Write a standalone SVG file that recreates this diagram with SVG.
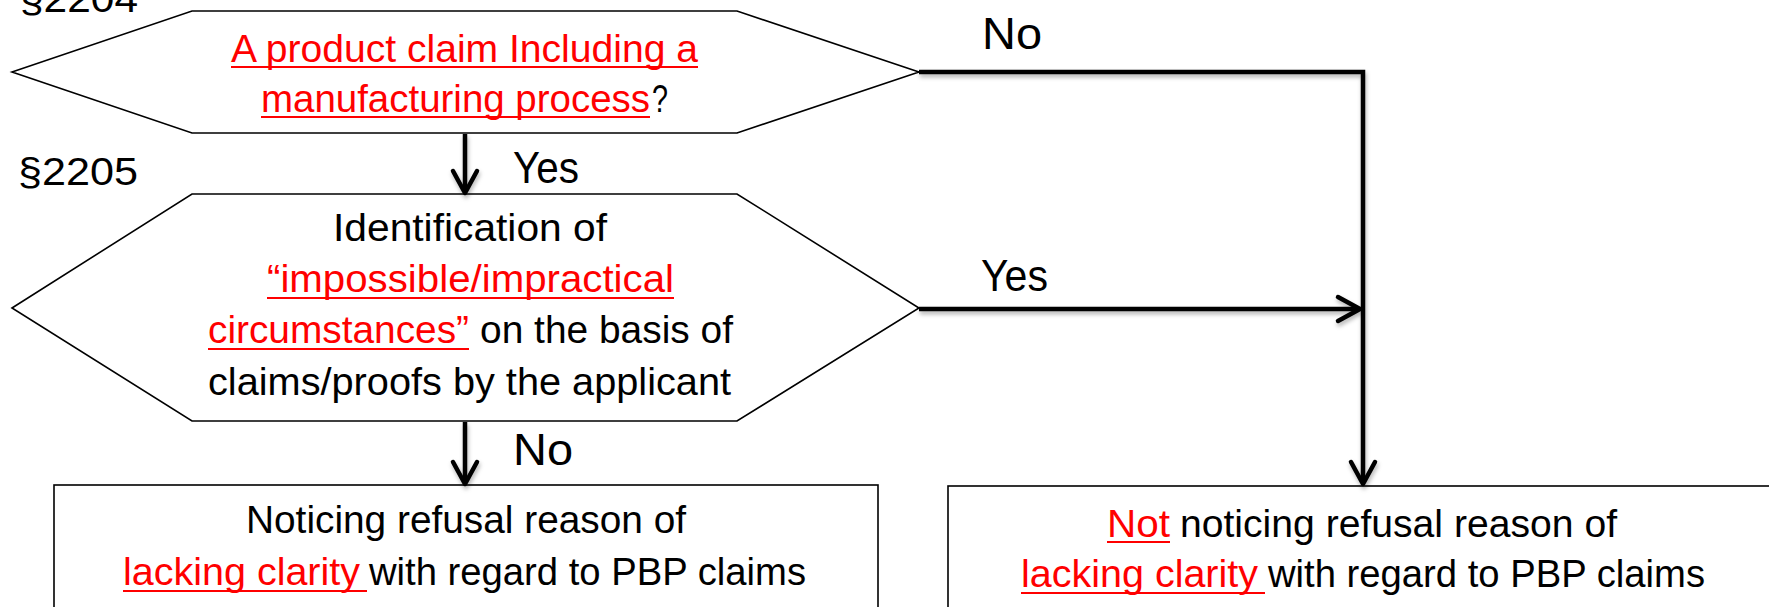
<svg xmlns="http://www.w3.org/2000/svg" width="1769" height="607" viewBox="0 0 1769 607">
<style>
.t{font-family:"Liberation Sans",Arial,sans-serif;font-size:38px;fill:#000}
.r{fill:#ff0000}
.lbl{font-size:44px}
.shape{fill:#fff;stroke:#000;stroke-width:1.6}
.ul{stroke:#ff0000;stroke-width:2}
.conn{fill:none;stroke:#000;stroke-width:4.5;stroke-linejoin:miter}
</style>
<defs>
<marker id="arr" markerUnits="userSpaceOnUse" markerWidth="30" markerHeight="30" viewBox="-26 -15 30 30" refX="-2" refY="0" orient="auto" overflow="visible">
<path d="M-22,-12 L0,0 L-22,12" fill="none" stroke="#000" stroke-width="4.5" stroke-linecap="round" stroke-linejoin="round"/>
</marker>
<filter id="sh" x="-10%" y="-10%" width="120%" height="130%">
<feDropShadow dx="1" dy="3" stdDeviation="2" flood-color="#000" flood-opacity="0.3"/>
</filter>
</defs>

<g id="annotations">
<text class="t" x="20" y="12" textLength="118" lengthAdjust="spacingAndGlyphs">§2204</text>
<text class="t" x="18" y="185" textLength="120" lengthAdjust="spacingAndGlyphs">§2205</text>
</g>

<g id="node-q1">
<polygon class="shape" points="12,72 192,11 737,11 919,72 737,133 192,133"/>
<text class="t r" x="231" y="62" textLength="467" lengthAdjust="spacingAndGlyphs">A product claim Including a</text>
<line class="ul" x1="231" y1="67" x2="698" y2="67"/>
<text class="t r" x="261" y="112" textLength="389" lengthAdjust="spacingAndGlyphs">manufacturing process</text>
<line class="ul" x1="261" y1="117" x2="650" y2="117"/>
<text class="t" x="652" y="112" textLength="16" lengthAdjust="spacingAndGlyphs">?</text>
</g>

<g id="node-q2">
<polygon class="shape" points="12,308 192,194 737,194 919,308 737,421 192,421"/>
<text class="t" x="333" y="241" textLength="274" lengthAdjust="spacingAndGlyphs">Identification of</text>
<text class="t r" x="267" y="292" textLength="407" lengthAdjust="spacingAndGlyphs">“impossible/impractical</text>
<line class="ul" x1="267" y1="298" x2="674" y2="298"/>
<text class="t r" x="208" y="343" textLength="261" lengthAdjust="spacingAndGlyphs">circumstances”</text>
<line class="ul" x1="208" y1="349" x2="469" y2="349"/>
<text class="t" x="480" y="343" textLength="253" lengthAdjust="spacingAndGlyphs">on the basis of</text>
<text class="t" x="208" y="395" textLength="523" lengthAdjust="spacingAndGlyphs">claims/proofs by the applicant</text>
</g>

<g id="node-refusal">
<rect class="shape" x="54" y="485" width="824" height="140"/>
<text class="t" x="246" y="533" textLength="440" lengthAdjust="spacingAndGlyphs">Noticing refusal reason of</text>
<text class="t r" x="123" y="585" textLength="237" lengthAdjust="spacingAndGlyphs">lacking clarity</text>
<line class="ul" x1="123" y1="591" x2="367" y2="591"/>
<text class="t" x="369" y="585" textLength="437" lengthAdjust="spacingAndGlyphs">with regard to PBP claims</text>
</g>

<g id="node-no-refusal">
<rect class="shape" x="948" y="486" width="840" height="140"/>
<text class="t r" x="1107" y="537" textLength="63" lengthAdjust="spacingAndGlyphs">Not</text>
<line class="ul" x1="1107" y1="542" x2="1170" y2="542"/>
<text class="t" x="1180" y="537" textLength="437" lengthAdjust="spacingAndGlyphs">noticing refusal reason of</text>
<text class="t r" x="1021" y="587" textLength="237" lengthAdjust="spacingAndGlyphs">lacking clarity</text>
<line class="ul" x1="1021" y1="593" x2="1265" y2="593"/>
<text class="t" x="1268" y="587" textLength="437" lengthAdjust="spacingAndGlyphs">with regard to PBP claims</text>
</g>

<g id="connectors">
<g filter="url(#sh)">
<path class="conn" d="M465,134 V191" marker-end="url(#arr)"/>
<path class="conn" d="M919,72 H1363 V482" marker-end="url(#arr)"/>
<path class="conn" d="M919,309 H1358" marker-end="url(#arr)"/>
<path class="conn" d="M465,422 V482" marker-end="url(#arr)"/>
</g>
<text class="t lbl" x="982" y="49" textLength="60" lengthAdjust="spacingAndGlyphs">No</text>
<text class="t lbl" x="513" y="183" textLength="66" lengthAdjust="spacingAndGlyphs">Yes</text>
<text class="t lbl" x="981" y="291" textLength="67" lengthAdjust="spacingAndGlyphs">Yes</text>
<text class="t lbl" x="513" y="465" textLength="60" lengthAdjust="spacingAndGlyphs">No</text>
</g>
</svg>
